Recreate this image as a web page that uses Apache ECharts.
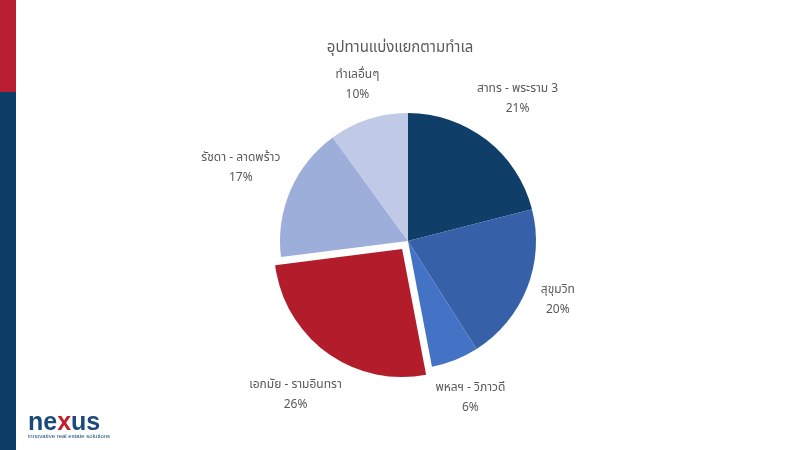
<!DOCTYPE html>
<html><head><meta charset="utf-8">
<script src="https://cdn.jsdelivr.net/npm/echarts@6/dist/echarts.min.js"></script>
<style>html,body{margin:0;padding:0;background:#fff}#c{width:800px;height:450px}</style>
</head><body><div id="c"></div>
<script>
const titleText = 'อุปทานแบ่งแยกตามทำเล';
const categories = ['สาทร - พระราม 3', 'สุขุมวิท', 'พหลฯ - วิภาวดี', 'เอกมัย - รามอินทรา', 'รัชดา - ลาดพร้าว', 'ทำเลอื่นๆ'];
const shares = [21, 20, 6, 26, 17, 10];
const sliceColors = ['#0F3E69', '#3660A8', '#4472C4', '#B21C2B', '#9DAEDB', '#C0CAE6'];
const explodedIndex = 3;

const pieCenter = [408, 241];
const pieRadius = 128;
const explodeOffset = 10;
const labelGap = 10;

const total = shares.reduce((a, b) => a + b, 0);
function midAngle(i) {
  let before = 0;
  for (let k = 0; k < i; k++) before += shares[k];
  return (before + shares[i] / 2) / total * Math.PI * 2; // clockwise from top
}
function dir(i) { const a = midAngle(i); return [Math.sin(a), -Math.cos(a)]; }
const exDir = dir(explodedIndex);
const explodedCenter = [pieCenter[0] + exDir[0] * explodeOffset, pieCenter[1] + exDir[1] * explodeOffset];

const font = '"Noto Sans Thai", "Leelawadee UI", Tahoma, "Noto Sans", sans-serif';

function makeSeries(center, showIndex) {
  return {
    type: 'pie',
    center: center,
    radius: pieRadius,
    startAngle: 90,
    clockwise: true,
    selectedMode: false,
    avoidLabelOverlap: false,
    silent: true,
    label: {
      show: true, position: 'outside',
      formatter: '{b}\n{d}%',
      color: '#595959', fontSize: 12, lineHeight: 20, fontFamily: font
    },
    labelLine: {show: false, length: 22, length2: 0},
    labelLayout: function (p) {
      const d = dir(p.dataIndex);
      const w = p.labelRect.width, h = p.labelRect.height;
      const half = Math.abs(d[0]) * w / 2 + Math.abs(d[1]) * h / 2;
      const dist = pieRadius + labelGap + half;
      return {x: center[0] + d[0] * dist, y: center[1] + d[1] * dist, align: 'center', verticalAlign: 'middle'};
    },
    emphasis: {disabled: true},
    data: categories.map((n, i) => {
      const visible = showIndex(i);
      return {
        name: n, value: shares[i],
        itemStyle: {color: visible ? sliceColors[i] : 'rgba(0,0,0,0)'},
        label: {show: visible}
      };
    })
  };
}

const chart = echarts.init(document.getElementById('c'), null, {renderer: 'canvas'});
chart.setOption({
  animation: false,
  backgroundColor: '#fff',
  title: {
    text: titleText, left: 'center', top: 36,
    textStyle: {color: '#595959', fontSize: 15, fontWeight: 'normal', fontFamily: font}
  },
  graphic: [
    {type: 'rect', shape: {x: 0, y: 0, width: 16, height: 92}, style: {fill: '#B81D30'}},
    {type: 'rect', shape: {x: 0, y: 92, width: 16, height: 358}, style: {fill: '#0B3D66'}},
    {type: 'text', left: 28, top: 411, style: {
      text: '{a|ne}{b|x}{a|us}', rich: {
        a: {fontSize: 25, fontWeight: 'bold', fill: '#1B4A7A', fontFamily: 'Arial, sans-serif'},
        b: {fontSize: 25, fontWeight: 'bold', fill: '#C0202E', fontFamily: 'Arial, sans-serif'}
      }}},
    {type: 'text', left: 28, top: 433, style: {text: 'innovative real estate solutions', fontSize: 6, fill: '#1B4A7A', fontFamily: 'Arial, sans-serif'}}
  ],
  series: [
    makeSeries(pieCenter, i => i !== explodedIndex),
    makeSeries(explodedCenter, i => i === explodedIndex)
  ]
});
</script></body></html>
